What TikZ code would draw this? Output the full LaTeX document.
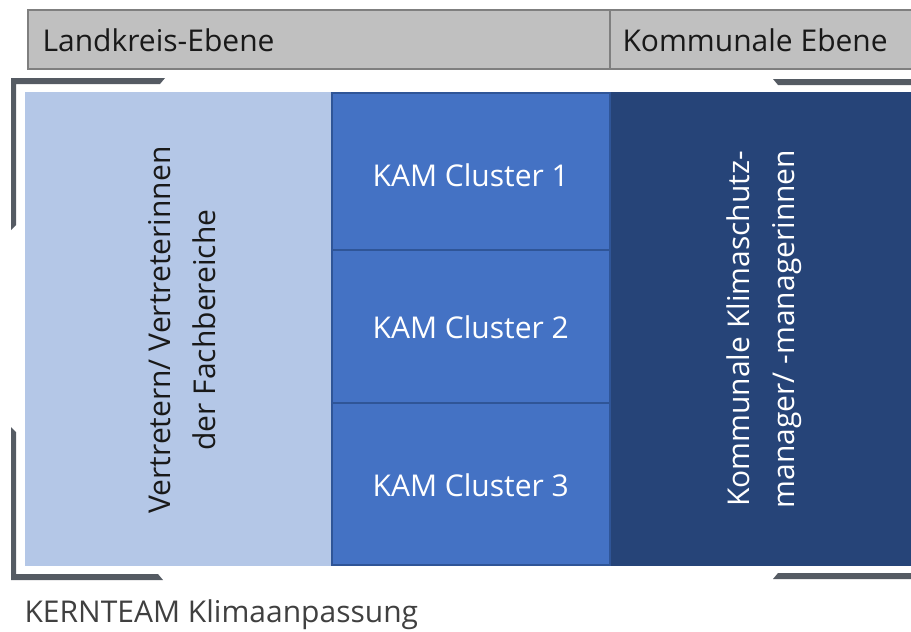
\documentclass[tikz,border=0pt]{standalone}
\usepackage{fontspec}
\setmainfont{Open Sans}
\definecolor{hdrfill}{HTML}{C0C0C0}
\definecolor{hdrdraw}{HTML}{7F7F7F}
\definecolor{lightblue}{HTML}{B4C7E7}
\definecolor{midblue}{HTML}{4472C4}
\definecolor{midborder}{HTML}{2F5597}
\definecolor{darkblue}{HTML}{264478}
\definecolor{bracket}{HTML}{555B63}
\definecolor{foot}{HTML}{404040}
\begin{document}
\begin{tikzpicture}[x=1pt,y=-1pt,
  hdr/.style={draw=hdrdraw, fill=hdrfill, line width=1.5pt, anchor=north west, inner sep=0pt},
  cell/.style={anchor=north west, inner sep=0pt},
  bigtxt/.style={font=\fontsize{30}{36}\selectfont},
  brk/.style={fill=bracket, draw=none}]
\useasboundingbox (0,0) rectangle (911,632);
% header
\node[hdr, minimum width=582pt, minimum height=59pt] (lk) at (27,9) {};
\node[hdr, minimum width=310pt, minimum height=59pt] (ke) at (609,9) {};
\node[bigtxt, anchor=west, text=black!90] (lkt) at (39,40) {Landkreis-Ebene};
\node[bigtxt, anchor=west, text=black!90] (ket) at (619,40) {Kommunale Ebene};
% brackets
\fill[brk] (11,78) -- (165,78) -- (160,84) -- (16,84) -- (16,225) -- (11,230) -- cycle;
\fill[brk] (11,427) -- (16,432) -- (16,574) -- (158,574) -- (163,580) -- (11,580) -- cycle;
\fill[brk] (773,79) -- (911,79) -- (911,85) -- (778,85) -- cycle;
\fill[brk] (778,573) -- (911,573) -- (911,579) -- (773,579) -- cycle;
% panels
\node[cell, fill=lightblue, minimum width=306pt, minimum height=474pt] (left) at (25,92) {};
\node[cell, fill=darkblue, minimum width=302pt, minimum height=474pt] (right) at (609,92) {};
\node[cell, fill=midblue, draw=midborder, line width=1.5pt, minimum width=278pt, minimum height=157pt] (c1) at (331,92) {};
\node[cell, fill=midblue, draw=midborder, line width=1.5pt, minimum width=278pt, minimum height=153pt] (c2) at (331,249) {};
\node[cell, fill=midblue, draw=midborder, line width=1.5pt, minimum width=278pt, minimum height=162pt] (c3) at (331,402) {};
\node[bigtxt, text=white] at ([yshift=-4pt]c1.center) {KAM Cluster 1};
\node[bigtxt, text=white] at ([yshift=-1pt]c2.center) {KAM Cluster 2};
\node[bigtxt, text=white] at ([yshift=-1pt]c3.center) {KAM Cluster 3};
\node[font=\fontsize{30}{45}\selectfont, rotate=90, align=center, text=black!90] (lt) at (182,330) {Vertretern/ Vertreterinnen\\der Fachbereiche};
\node[font=\fontsize{30}{45}\selectfont, rotate=90, align=center, text=white] (rt) at (764,329) {Kommunale Klimaschutz-\\manager/ -managerinnen};
% footer
\node[bigtxt, anchor=west, text=foot] (ft) at (21,615) {KERNTEAM Klimaanpassung};
\end{tikzpicture}
\end{document}
